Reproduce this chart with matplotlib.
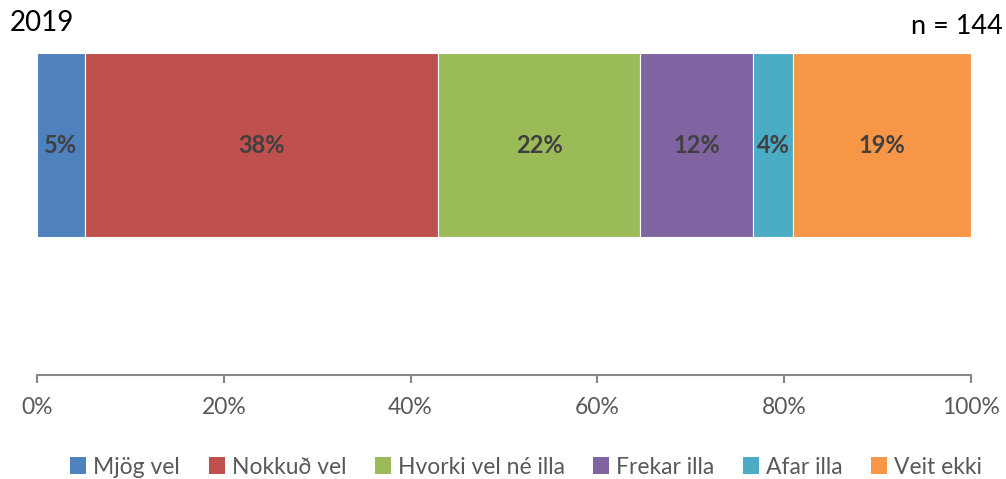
import matplotlib
matplotlib.use("Agg")
import matplotlib.pyplot as plt
from matplotlib.patches import Patch
from matplotlib.ticker import PercentFormatter

categories = ["Mjög vel", "Nokkuð vel", "Hvorki vel né illa", "Frekar illa", "Afar illa", "Veit ekki"]
values = [5.1, 37.8, 21.7, 12.1, 4.2, 19.1]
labels = ["5%", "38%", "22%", "12%", "4%", "19%"]
colors = ["#4F81BD", "#C0504D", "#9BBB59", "#8064A2", "#4BACC6", "#F79646"]
xticks = [0, 20, 40, 60, 80, 100]
year = "2019"
n_text = "n = 144"

plt.rcParams['font.family'] = ['Lato', 'DejaVu Sans']

fig = plt.figure(figsize=(10.06, 4.79), dpi=100)
ax = fig.add_axes([37/1006, 1 - 375/479, 934/1006, (375 - 53)/479])

left = 0
ycenter = 0.714
height = 0.572
for v, lab, c in zip(values, labels, colors):
    ax.barh(ycenter, v, left=left, height=height, color=c, edgecolor="white", linewidth=0.8)
    ax.text(left + v / 2, ycenter, lab, ha="center", va="center", fontsize=17,
            fontweight="bold", color="#404040")
    left += v

ax.set_xlim(0, 100)
ax.set_ylim(0, 1)
ax.set_xticks(xticks)
ax.xaxis.set_major_formatter(PercentFormatter(decimals=0))
ax.set_yticks([])
for s in ["top", "right", "left"]:
    ax.spines[s].set_visible(False)
ax.spines["bottom"].set_color("#868686")
ax.spines["bottom"].set_linewidth(1.5)
ax.tick_params(axis="x", colors="#868686", length=6, width=1.5, direction="out",
               labelcolor="#595959", labelsize=16.5, pad=10)

fig.text(10/1006, 1 - 23/479, year, ha="left", va="center", fontsize=20, color="#000000")
fig.text(1003/1006, 1 - 27/479, n_text, ha="right", va="center", fontsize=19.5, color="#000000")

handles = [Patch(facecolor=c, edgecolor="none") for c in colors]
fig.legend(handles, categories, loc="center", bbox_to_anchor=(0.523, 1 - 467/479), ncol=6,
           frameon=False, fontsize=16.5, labelcolor="#595959", handlelength=0.7, handleheight=0.7,
           handletextpad=0.3, columnspacing=1.25)

fig.savefig("out.png", dpi=100)
